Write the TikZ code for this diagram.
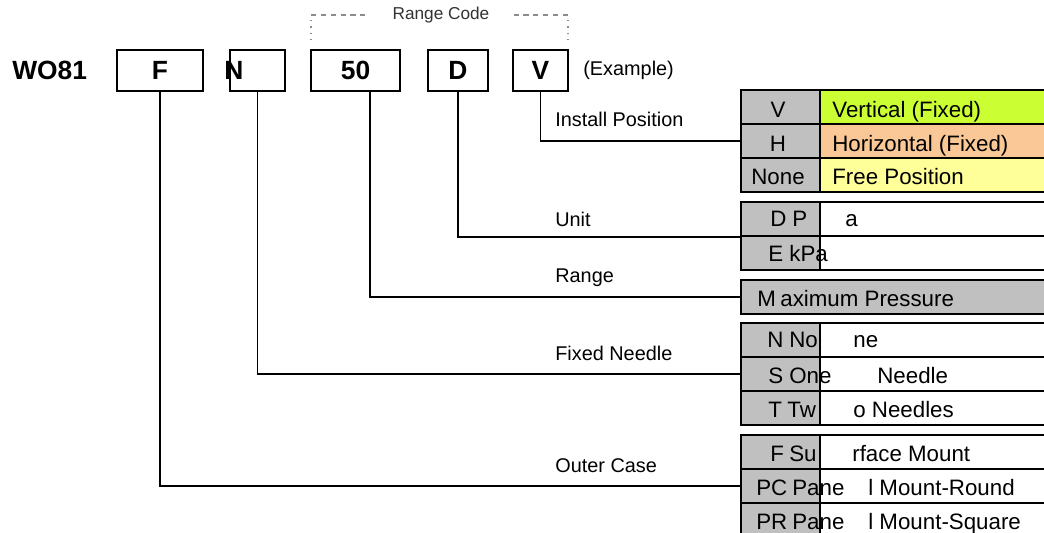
\documentclass[tikz,border=0pt]{standalone}
\usepackage{fontspec}
\setmainfont{Liberation Sans}
\usepackage{tikz}
\usetikzlibrary{positioning}
\definecolor{cellgray}{RGB}{192,192,192}
\definecolor{vgreen}{RGB}{204,255,51}
\definecolor{hpeach}{RGB}{250,200,150}
\definecolor{nyellow}{RGB}{255,255,153}
\definecolor{dashgray}{RGB}{140,140,140}
\tikzset{
  codebox/.style={rectangle, draw=black, line width=1.5pt, minimum height=0.82cm,
    inner sep=0pt, font=\bfseries\fontsize{15}{18}\selectfont},
  bigtxt/.style={inner sep=0pt, font=\bfseries\fontsize{15}{18}\selectfont},
  cell/.style={rectangle, draw=black, line width=1pt, anchor=north west,
    inner sep=0pt, minimum height=0.68cm},
  codecell/.style={cell, fill=cellgray, minimum width=1.58cm},
  desccell/.style={cell, minimum width=4.5cm},
  tag/.style={anchor=base west, inner sep=0pt, font=\fontsize{11.3}{13}\selectfont},
  celltxt/.style={anchor=base west, inner sep=0pt, font=\fontsize{12.7}{15}\selectfont},
  lead/.style={line width=0.9pt, color=black},
  rangedash/.style={dashgray, line width=0.6pt, dash pattern=on 3pt off 2.6pt},
  rangedot/.style={dashgray, line width=1pt, dash pattern=on 0.8pt off 2.8pt}
}

\begin{document}
\begin{tikzpicture}[x=0.02cm, y=-0.02cm]
  \clip (0,0) rectangle (1044,533);
  \fill[white] (0,0) rectangle (1044,533);

  % Code boxes
  \node[bigtxt, anchor=base west] (model) at (12,80) {WO81};
  \node[codebox, minimum width=1.72cm] (bF) at (160,70.5) {F};
  \node[codebox, minimum width=1.1cm] (bN) at (257.5,70.5) {};
  \node[bigtxt] (nN) at (234,70.5) {N};
  \node[codebox, minimum width=1.78cm] (b50) at (355.5,70.5) {50};
  \node[codebox, minimum width=1.2cm] (bD) at (458,70.5) {D};
  \node[codebox, minimum width=1.1cm] (bV) at (540.5,70.5) {V};
  \node[tag, anchor=west] (ex) at (583,70.5) {(Example)};

  % Range code bracket
  \node[inner sep=0pt, font=\fontsize{9.8}{12}\selectfont, text=black!80] (rc) at (441,15) {Range Code};
  \coordinate (rcL) at (311,15);
  \coordinate (rcR) at (568,15);
  \draw[rangedash] (rcL) -- ++(59,0);
  \draw[rangedash] (rcR) -- ++(-55,0);
  \draw[rangedot] (rcL) ++(0,5) -- ++(0,24);
  \draw[rangedot] (rcR) ++(0,5) -- ++(0,24);

  % Install position
  \node[codecell] (cV) at (740,89) {};
  \node[desccell, fill=vgreen] (dV) at (819,89) {};
  \node[codecell] (cH) at (740,123) {};
  \node[desccell, fill=hpeach] (dH) at (819,123) {};
  \node[codecell] (cNone) at (740,157) {};
  \node[desccell, fill=nyellow] (dNone) at (819,157) {};
  % Unit
  \node[codecell] (cD) at (740,201) {};
  \node[desccell] (dD) at (819,201) {};
  \node[codecell] (cE) at (740,235) {};
  \node[desccell] (dE) at (819,235) {};
  % Range
  \node[cell, fill=cellgray, minimum width=6.08cm] (rng) at (740,279) {};
  % Fixed needle
  \node[codecell] (cN) at (740,322) {};
  \node[desccell] (dN) at (819,322) {};
  \node[codecell] (cS) at (740,356) {};
  \node[desccell] (dS) at (819,356) {};
  \node[codecell] (cT) at (740,390) {};
  \node[desccell] (dT) at (819,390) {};
  % Outer case
  \node[codecell] (cF) at (740,434) {};
  \node[desccell] (dF) at (819,434) {};
  \node[codecell] (cPC) at (740,468) {};
  \node[desccell] (dPC) at (819,468) {};
  \node[codecell] (cPR) at (740,502) {};
  \node[desccell] (dPR) at (819,502) {};

  % Cell texts
  \node[celltxt, anchor=base] (tV) at (778,118) {V};
  \node[celltxt] (tV2) at (832,118) {Vertical (Fixed)};
  \node[celltxt, anchor=base] (tH) at (778,152) {H};
  \node[celltxt] (tH2) at (832,152) {Horizontal (Fixed)};
  \node[celltxt, anchor=base] (tNone) at (778,185) {None};
  \node[celltxt] (tNone2) at (832,185) {Free Position};
  \node[celltxt] (tD) at (770,227) {D};
  \node[celltxt] (tD2) at (792,227) {P};
  \node[celltxt] (tD3) at (845,227) {a};
  \node[celltxt] (tE) at (768,262) {E};
  \node[celltxt] (tE2) at (789,262) {kPa};
  \node[celltxt] (tM) at (757,307) {M};
  \node[celltxt] (tM2) at (780,307) {aximum Pressure};
  \node[celltxt] (tN) at (767,348) {N};
  \node[celltxt] (tN2) at (789,348) {No};
  \node[celltxt] (tN3) at (853,348) {ne};
  \node[celltxt] (tS) at (768,383) {S};
  \node[celltxt] (tS2) at (789,383) {One};
  \node[celltxt] (tS3) at (877,383) {Needle};
  \node[celltxt] (tT) at (768,417) {T};
  \node[celltxt] (tT2) at (787,417) {Tw};
  \node[celltxt] (tT3) at (853,417) {o Needles};
  \node[celltxt] (tF) at (770,461) {F};
  \node[celltxt] (tF2) at (789,461) {Su};
  \node[celltxt] (tF3) at (852,461) {rface Mount};
  \node[celltxt] (tPC) at (756,495) {PC};
  \node[celltxt] (tPC2) at (792,495) {Pane};
  \node[celltxt] (tPC3) at (868,495) {l Mount-Round};
  \node[celltxt] (tPR) at (756,529) {PR};
  \node[celltxt] (tPR2) at (792,529) {Pane};
  \node[celltxt] (tPR3) at (868,529) {l Mount-Square};

  % Leads
  \node[tag] (lInst) at (555,127) {Install Position};
  \node[tag] (lUnit) at (555,227) {Unit};
  \node[tag] (lRange) at (555,283) {Range};
  \node[tag] (lNeedle) at (555,360) {Fixed Needle};
  \node[tag] (lCase) at (555,472) {Outer Case};
  \draw[lead] (bV.south) |- (cH.west);
  \draw[lead] (bD.south) |- (cD.south west);
  \draw[lead] ([xshift=0.29cm]b50.south) |- (rng.west);
  \draw[lead] (bN.south) |- (cS.west);
  \draw[lead] (bF.south) |- (cPC.west);
\end{tikzpicture}
\end{document}
